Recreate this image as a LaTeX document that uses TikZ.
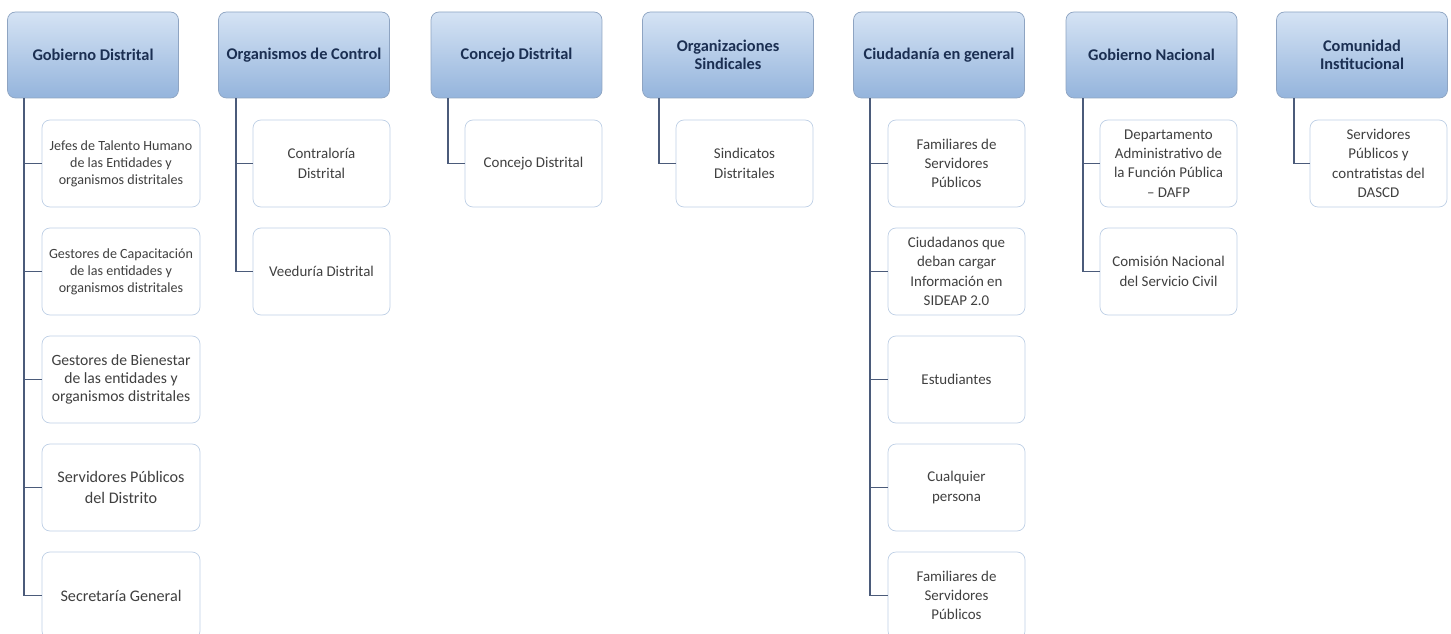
\documentclass[tikz,border=0pt]{standalone}
\usepackage{fontspec}
\setmainfont{Carlito}
\definecolor{hdtop}{HTML}{D5E3F4}
\definecolor{hdbot}{HTML}{94B4DC}
\definecolor{hdline}{HTML}{8EA4C2}
\definecolor{hdtext}{HTML}{1B2F52}
\definecolor{subline}{HTML}{BFD0E6}
\definecolor{subtext}{HTML}{404040}
\definecolor{lnk}{HTML}{4B5B7A}
\begin{document}
\begin{tikzpicture}[
hd/.style={%
draw=hdline,
rounded corners=0.16cm,
top color=hdtop,
bottom color=hdbot,
minimum width=3.42cm,
minimum height=1.72cm,
align=center,
text=hdtext,
font=\bfseries\fontsize{9.3}{10.5}\selectfont
},
sub/.style={%
draw=subline,
rounded corners=0.16cm,
fill=white,
minimum width=2.74cm,
minimum height=1.74cm,
align=center,
text=subtext,
font=\fontsize{8.5}{11}\selectfont
},
small/.style={font=\fontsize{8}{9.6}\selectfont},
big/.style={font=\fontsize{9.2}{11.5}\selectfont},
conn/.style={draw=lnk, line width=1.1pt}
]
\useasboundingbox(0,0)rectangle(29.02,-12.68);
%% Gobierno Distrital
\node[hd]at(1.86,-1.10)(gd){Gobierno Distrital};
\node[sub,small,minimum width=3.16cm]at(2.42,-3.27)(gd1){Jefes de Talento Humano\\de las Entidades y\\organismos distritales};
\node[sub,small,minimum width=3.16cm]at(2.42,-5.43)(gd2){Gestores de Capacitación\\de las entidades y\\organismos distritales};
\node[sub,font=\fontsize{8.9}{10.3}\selectfont,minimum width=3.16cm]at(2.42,-7.59)(gd3){Gestores de Bienestar\\de las entidades y\\organismos distritales};
\node[sub,big,minimum width=3.16cm]at(2.42,-9.75)(gd4){Servidores Públicos\\del Distrito};
\node[sub,big,minimum width=3.16cm]at(2.42,-11.91)(gd5){Secretaría General};
\draw[conn]([xshift=0.34cm]gd.south west)|-(gd1.west);
\draw[conn]([xshift=0.34cm]gd.south west)|-(gd2.west);
\draw[conn]([xshift=0.34cm]gd.south west)|-(gd3.west);
\draw[conn]([xshift=0.34cm]gd.south west)|-(gd4.west);
\draw[conn]([xshift=0.34cm]gd.south west)|-(gd5.west);
%% Organismos de Control
\node[hd]at(6.08,-1.10)(oc){Organismos de Control};
\node[sub]at(6.43,-3.27)(oc1){Contraloría\\Distrital};
\node[sub]at(6.43,-5.43)(oc2){Veeduría Distrital};
\draw[conn]([xshift=0.36cm]oc.south west)|-(oc1.west);
\draw[conn]([xshift=0.36cm]oc.south west)|-(oc2.west);
%% Concejo Distrital
\node[hd]at(10.33,-1.10)(cd){Concejo Distrital};
\node[sub]at(10.67,-3.27)(cd1){Concejo Distrital};
\draw[conn]([xshift=0.34cm]cd.south west)|-(cd1.west);
%% Organizaciones Sindicales
\node[hd]at(14.56,-1.10)(os){Organizaciones\\Sindicales};
\node[sub]at(14.89,-3.27)(os1){Sindicatos\\Distritales};
\draw[conn]([xshift=0.34cm]os.south west)|-(os1.west);
%% Ciudadania en general
\node[hd]at(18.78,-1.10)(cg){Ciudadanía en general};
\node[sub]at(19.13,-3.27)(cg1){Familiares de\\Servidores\\Públicos};
\node[sub]at(19.13,-5.43)(cg2){Ciudadanos que\\deban cargar\\Información en\\SIDEAP 2.0};
\node[sub]at(19.13,-7.59)(cg3){Estudiantes};
\node[sub]at(19.13,-9.75)(cg4){Cualquier\\persona};
\node[sub]at(19.13,-11.91)(cg5){Familiares de\\Servidores\\Públicos};
\draw[conn]([xshift=0.34cm]cg.south west)|-(cg1.west);
\draw[conn]([xshift=0.34cm]cg.south west)|-(cg2.west);
\draw[conn]([xshift=0.34cm]cg.south west)|-(cg3.west);
\draw[conn]([xshift=0.34cm]cg.south west)|-(cg4.west);
\draw[conn]([xshift=0.34cm]cg.south west)|-(cg5.west);
%% Gobierno Nacional
\node[hd]at(23.03,-1.10)(gn){Gobierno Nacional};
\node[sub]at(23.37,-3.27)(gn1){Departamento\\Administrativo de\\la Función Pública\\– DAFP};
\node[sub]at(23.37,-5.43)(gn2){Comisión Nacional\\del Servicio Civil};
\draw[conn]([xshift=0.34cm]gn.south west)|-(gn1.west);
\draw[conn]([xshift=0.34cm]gn.south west)|-(gn2.west);
%% Comunidad Institucional
\node[hd]at(27.24,-1.10)(ci){Comunidad\\Institucional};
\node[sub]at(27.57,-3.27)(ci1){Servidores\\Públicos y\\contratistas del\\DASCD};
\draw[conn]([xshift=0.36cm]ci.south west)|-(ci1.west);
\end{tikzpicture}
\end{document}
